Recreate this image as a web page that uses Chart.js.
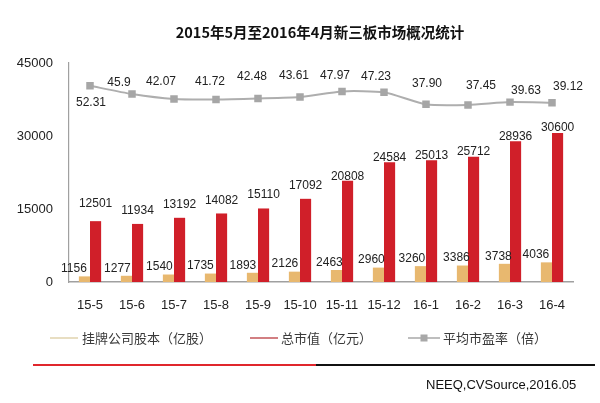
<!DOCTYPE html>
<html>
<head>
<meta charset="utf-8">
<script src="https://cdn.jsdelivr.net/npm/chart.js@4.4.1/dist/chart.umd.min.js"></script>
<style>
  html, body { margin: 0; padding: 0; background: #ffffff; }
  #wrap { position: relative; width: 600px; height: 403px; }
</style>
</head>
<body>
<div id="wrap"><canvas id="c" width="600" height="403"></canvas></div>
<script>
// ---- data ----
const title = '2015年5月至2016年4月新三板市场概况统计';
const categories = ['15-5','15-6','15-7','15-8','15-9','15-10','15-11','15-12','16-1','16-2','16-3','16-4'];
const shareCapital = [1156,1277,1540,1735,1893,2126,2463,2960,3260,3386,3738,4036];
const marketValue = [12501,11934,13192,14082,15110,17092,20808,24584,25013,25712,28936,30600];
const peRatio = [52.31,45.9,42.07,41.72,42.48,43.61,47.97,47.23,37.90,37.45,39.63,39.12];
const peLabels = ['52.31','45.9','42.07','41.72','42.48','43.61','47.97','47.23','37.90','37.45','39.63','39.12'];
const yTicks = [0,15000,30000,45000];
const yTickLabels = ['0','15000','30000','45000'];
const seriesNames = ['挂牌公司股本（亿股）','总市值（亿元）','平均市盈率（倍）'];
const sourceText = 'NEEQ,CVSource,2016.05';

// ---- label placement (layout only) ----
const beigeLabelDx = [-10.5,-9,-9,-10,-9.5,-9.5,-7,-7,-8.5,-6,-6,-10.5];
const redLabelLift = [17.5,13.5,13,13,14,13.5,4.5,4.5,5,5.5,4,5.5];
const peLabelOffset = [[1,17],[-13,-11],[-13,-17],[-6,-18],[-6,-22],[-6,-21],[-7,-16],[-8,-16],[1,-21],[13,-19],[16,-11],[16,-16]];

const FONT = '"Liberation Sans", Arial, sans-serif';
const CJK = '"Noto Sans CJK SC", "Noto Sans", sans-serif';

const decor = {
  id: 'decor',
  afterDatasetsDraw(chart) {
    const ctx = chart.ctx;
    ctx.save();
    ctx.font = '12px ' + FONT;
    ctx.fillStyle = '#222';
    ctx.textAlign = 'center';
    ctx.textBaseline = 'middle';
    chart.getDatasetMeta(0).data.forEach((el, i) => {
      ctx.fillText(String(shareCapital[i]), el.x + beigeLabelDx[i], el.y - 7.5);
    });
    chart.getDatasetMeta(1).data.forEach((el, i) => {
      ctx.fillText(String(marketValue[i]), el.x, el.y - redLabelLift[i]);
    });
    chart.getDatasetMeta(2).data.forEach((el, i) => {
      ctx.fillText(peLabels[i], el.x + peLabelOffset[i][0], el.y + peLabelOffset[i][1]);
    });
    ctx.restore();
  },
  afterDraw(chart) {
    const ctx = chart.ctx;
    ctx.save();
    // title
    ctx.font = 'bold 14.5px ' + CJK;
    ctx.fillStyle = '#111';
    ctx.textAlign = 'center';
    ctx.textBaseline = 'middle';
    ctx.fillText(title, 320, 32);

    // legend
    const ly = 338;
    ctx.font = '13px ' + CJK;
    ctx.fillStyle = '#3a3a3a';
    ctx.textAlign = 'left';
    ctx.strokeStyle = '#d9c99a'; ctx.lineWidth = 1.2;
    ctx.beginPath(); ctx.moveTo(50, ly); ctx.lineTo(78, ly); ctx.stroke();
    ctx.fillText(seriesNames[0], 82, ly);
    ctx.strokeStyle = '#b52a2f'; ctx.lineWidth = 1.2;
    ctx.beginPath(); ctx.moveTo(250, ly); ctx.lineTo(278, ly); ctx.stroke();
    ctx.fillText(seriesNames[1], 281, ly);
    ctx.strokeStyle = '#a8a8a8'; ctx.lineWidth = 1.5;
    ctx.beginPath(); ctx.moveTo(408, ly); ctx.lineTo(440, ly); ctx.stroke();
    ctx.fillStyle = '#a8a8a8';
    ctx.fillRect(420.5, ly - 3.5, 7, 7);
    ctx.fillStyle = '#3a3a3a';
    ctx.fillText(seriesNames[2], 443, ly);

    // bottom rule
    ctx.lineWidth = 2;
    ctx.strokeStyle = '#111';
    ctx.beginPath(); ctx.moveTo(314, 365); ctx.lineTo(595, 365); ctx.stroke();
    ctx.strokeStyle = '#e0262c';
    ctx.beginPath(); ctx.moveTo(33, 365); ctx.lineTo(316, 365); ctx.stroke();

    // source
    ctx.font = '13px ' + FONT;
    ctx.fillStyle = '#111';
    ctx.textAlign = 'left';
    ctx.fillText(sourceText, 426, 385);
    ctx.restore();
  }
};

new Chart(document.getElementById('c'), {
  data: {
    labels: categories,
    datasets: [
      {
        type: 'bar', label: seriesNames[0], data: shareCapital,
        backgroundColor: '#e8b86f', borderWidth: 0,
        categoryPercentage: 0.53, barPercentage: 1.0, yAxisID: 'y', order: 2
      },
      {
        type: 'bar', label: seriesNames[1], data: marketValue,
        backgroundColor: '#d01f29', borderWidth: 0,
        categoryPercentage: 0.53, barPercentage: 1.0, yAxisID: 'y', order: 2
      },
      {
        type: 'line', label: seriesNames[2], data: peRatio,
        borderColor: '#aeaeae', borderWidth: 2, tension: 0.2,
        pointStyle: 'rect', pointRadius: 5.3, pointBackgroundColor: '#a6a6a6',
        pointBorderWidth: 0, yAxisID: 'y2', order: 1
      }
    ]
  },
  options: {
    responsive: false,
    animation: false,
    layout: { padding: { left: 0, top: 63, right: 27, bottom: 0 } },
    plugins: { legend: { display: false }, tooltip: { enabled: false }, title: { display: false } },
    scales: {
      x: {
        grid: { display: false },
        border: { color: '#a0a0a0', width: 1.5 },
        ticks: { color: '#222', font: { family: FONT, size: 13 }, padding: 8, maxRotation: 0, autoSkip: false },
        afterFit(s) { s.height = 121; }
      },
      y: {
        min: 0, max: 45000,
        grid: { display: false },
        border: { color: '#a0a0a0', width: 1.2 },
        afterBuildTicks(s) { s.ticks = yTicks.map(v => ({ value: v })); },
        ticks: {
          color: '#222', font: { family: FONT, size: 13 }, padding: 8,
          callback(v) { const k = yTicks.indexOf(v); return k >= 0 ? yTickLabels[k] : ''; }
        },
        afterFit(s) { s.width = 69; }
      },
      y2: { display: false, min: -100, max: 70, position: 'right' }
    }
  },
  plugins: [decor]
});
</script>
</body>
</html>
